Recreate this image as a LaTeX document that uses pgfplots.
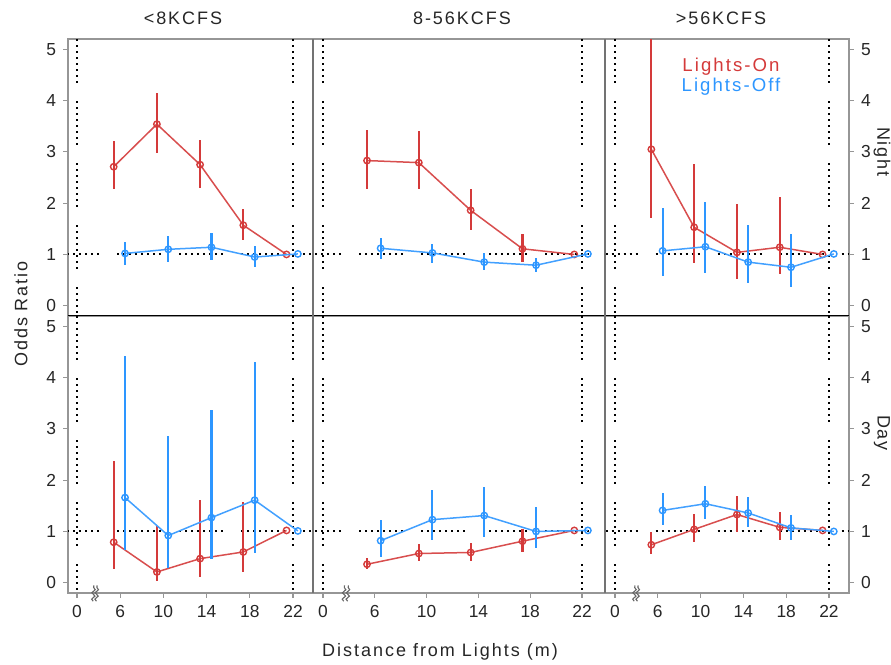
\documentclass[border=0pt]{standalone}
\usepackage{fontspec}
\setmainfont{Liberation Sans}
\newfontfamily\spaced{Liberation Sans}[LetterSpace=11]
\usepackage{pgfplots}
\pgfplotsset{compat=1.18}
\usepackage{pgfplotstable}
\usetikzlibrary{decorations.pathmorphing}

\definecolor{redc}{RGB}{212,58,58}
\definecolor{bluec}{RGB}{45,150,255}
\definecolor{framec}{RGB}{150,150,150}

% columns: x y lo hi
\pgfplotstableread{
x y lo hi
5.4 2.71 2.27 3.21
9.4 3.54 2.97 4.15
13.4 2.75 2.29 3.24
17.4 1.57 1.29 1.88
21.4 1.00 1.00 1.00
}\rNa
\pgfplotstableread{
x y lo hi
6.45 1.02 0.79 1.24
10.45 1.10 0.86 1.35
14.45 1.14 0.90 1.42
18.45 0.95 0.75 1.16
22.45 1.01 1.01 1.01
}\bNa
\pgfplotstableread{
x y lo hi
5.4 2.83 2.28 3.42
9.4 2.79 2.28 3.40
13.4 1.86 1.48 2.27
17.4 1.11 0.86 1.40
21.4 1.00 1.00 1.00
}\rNb
\pgfplotstableread{
x y lo hi
6.45 1.12 0.92 1.32
10.45 1.03 0.83 1.21
14.45 0.85 0.70 1.03
18.45 0.79 0.65 0.94
22.45 1.01 1.01 1.01
}\bNb
\pgfplotstableread{
x y lo hi
5.4 3.05 1.72 7.00
9.4 1.53 0.83 2.77
13.4 1.04 0.53 1.99
17.4 1.14 0.61 2.12
21.4 1.00 1.00 1.00
}\rNc
\pgfplotstableread{
x y lo hi
6.45 1.07 0.58 1.91
10.45 1.15 0.63 2.03
14.45 0.85 0.44 1.58
18.45 0.75 0.37 1.40
22.45 1.01 1.01 1.01
}\bNc
\pgfplotstableread{
x y lo hi
5.4 0.79 0.27 2.37
9.4 0.21 0.03 1.10
13.4 0.47 0.12 1.61
17.4 0.60 0.21 1.57
21.4 1.02 1.02 1.02
}\rDa
\pgfplotstableread{
x y lo hi
6.45 1.66 0.64 4.43
10.45 0.92 0.29 2.87
14.45 1.27 0.47 3.36
18.45 1.61 0.58 4.30
22.45 1.01 1.01 1.01
}\bDa
\pgfplotstableread{
x y lo hi
5.4 0.36 0.27 0.49
9.4 0.57 0.43 0.76
13.4 0.59 0.42 0.78
17.4 0.81 0.60 1.04
21.4 1.02 1.02 1.02
}\rDb
\pgfplotstableread{
x y lo hi
6.45 0.82 0.51 1.22
10.45 1.23 0.84 1.80
14.45 1.31 0.90 1.86
18.45 1.00 0.68 1.47
22.45 1.02 1.02 1.02
}\bDb
\pgfplotstableread{
x y lo hi
5.4 0.74 0.56 0.98
9.4 1.04 0.79 1.34
13.4 1.33 0.99 1.69
17.4 1.08 0.83 1.38
21.4 1.02 1.02 1.02
}\rDc
\pgfplotstableread{
x y lo hi
6.45 1.41 1.13 1.75
10.45 1.54 1.24 1.88
14.45 1.36 1.08 1.67
18.45 1.07 0.84 1.33
22.45 1.00 1.00 1.00
}\bDc

\pgfplotsset{
  panel/.style={scale only axis, height=138.5pt, ymin=-0.2, ymax=5.2, anchor=south west,
    axis line style={framec, line width=0.7pt},
    tick style={framec, line width=0.6pt}, tick align=outside, major tick length=2.5pt,
    ytick={0,1,2,3,4,5},
    ticklabel style={font=\fontsize{8.7}{10}\selectfont, text=black!85},
    /pgf/number format/assume math mode=true,
    clip mode=individual},
  c1/.style={width=122.5pt, xmin=1.17, xmax=23.85, ytick pos=left},
  c2/.style={width=146pt, xmin=1.23, xmax=23.77, ytick=\empty},
  c3/.style={width=122pt, xmin=1.07, xmax=23.87, ytick pos=right, yticklabel pos=right},
  top/.style={xtick=\empty},
  bot/.style={xtick={2,6,10,14,18,22}, xticklabels={0,6,10,14,18,22}, xtick pos=bottom},
  refl/.style={black, line width=1pt, dash pattern=on 1pt off 2pt on 1pt off 2pt on 1pt off 2pt on 1pt off 2pt on 1pt off 2pt on 1pt off 2pt on 1pt off 2pt on 1pt off 9pt},
  rser/.style={redc!90, line width=0.75pt, mark=o, mark size=1.6pt, mark options={line width=0.7pt, solid, redc},
    /pgfplots/error bars/y dir=both, /pgfplots/error bars/y explicit,
    /pgfplots/error bars/error mark=none,
    /pgfplots/error bars/error bar style={line width=1.05pt, redc}},
  bser/.style={bluec!90, line width=0.75pt, mark=o, mark size=1.6pt, mark options={line width=0.7pt, solid, bluec},
    /pgfplots/error bars/y dir=both, /pgfplots/error bars/y explicit,
    /pgfplots/error bars/error mark=none,
    /pgfplots/error bars/error bar style={line width=1.05pt, bluec}},
}

\newcommand{\refs}{%
  \addplot[refl] coordinates {(2,5.2) (2,-0.2)};
  \addplot[refl] coordinates {(22,5.2) (22,-0.2)};
  \addplot[refl] coordinates {(0,1) (30,1)};
}
\newcommand{\series}[2]{%
  \addplot[rser] table[x=x, y=y, y error plus expr=\thisrow{hi}-\thisrow{y}, y error minus expr=\thisrow{y}-\thisrow{lo}] {#1};
  \addplot[bser] table[x=x, y=y, y error plus expr=\thisrow{hi}-\thisrow{y}, y error minus expr=\thisrow{y}-\thisrow{lo}] {#2};
}
\newcommand{\brk}[1]{%
  \draw[black!60, line width=0.55pt, decorate, decoration={snake, amplitude=0.8pt, segment length=3.2pt}] (axis cs:#1,-0.36) -- (axis cs:#1+0.06,-0.05);
  \draw[black!60, line width=0.55pt, decorate, decoration={snake, amplitude=0.8pt, segment length=3.2pt}] (axis cs:#1+0.3,-0.36) -- (axis cs:#1+0.36,-0.05);
}

\begin{document}
\begin{tikzpicture}
\useasboundingbox (0,0) rectangle (445.5pt,332.5pt);
% top row
\begin{axis}[panel, c1, top, at={(34pt,174.5pt)}]
\refs \series{\rNa}{\bNa}
\end{axis}
\begin{axis}[panel, c2, top, at={(156.5pt,174.5pt)}]
\refs \series{\rNb}{\bNb}
\end{axis}
\begin{axis}[panel, c3, top, at={(302.5pt,174.5pt)}]
\refs \series{\rNc}{\bNc}
\end{axis}
% bottom row
\begin{axis}[panel, c1, bot, at={(34pt,36pt)}]
\refs \series{\rDa}{\bDa}
\brk{3.5}
\end{axis}
\begin{axis}[panel, c2, bot, at={(156.5pt,36pt)}]
\refs \series{\rDb}{\bDb}
\brk{3.6}
\end{axis}
\begin{axis}[panel, c3, bot, at={(302.5pt,36pt)}]
\refs \series{\rDc}{\bDc}
\brk{3.8}
\end{axis}
% dividers
\draw[black, line width=0.5pt] (34pt,174.5pt) -- (424.5pt,174.5pt);
\draw[black!55, line width=1pt] (156.5pt,36pt) -- (156.5pt,313pt);
\draw[black!55, line width=1pt] (302.5pt,36pt) -- (302.5pt,313pt);
% texts
\node[font=\spaced\fontsize{9}{10}\selectfont, text=black!85] at (91.5pt,323.5pt) {<8KCFS};
\node[font=\spaced\fontsize{9}{10}\selectfont, text=black!85] at (231pt,323.5pt) {8-56KCFS};
\node[font=\spaced\fontsize{9}{10}\selectfont, text=black!85] at (360.5pt,323.5pt) {>56KCFS};
\node[font=\spaced\fontsize{9.3}{10}\selectfont, text=redc] at (365.5pt,299pt) {Lights-On};
\node[font=\spaced\fontsize{9.3}{10}\selectfont, text=bluec] at (365.5pt,289pt) {Lights-Off};
\node[font=\spaced\fontsize{9}{10}\selectfont, text=black!85, rotate=90] at (10.5pt,175.5pt) {Odds Ratio};
\node[font=\spaced\fontsize{9}{10}\selectfont, text=black!85, rotate=-90] at (441pt,256.5pt) {Night};
\node[font=\spaced\fontsize{9}{10}\selectfont, text=black!85, rotate=-90] at (441pt,116pt) {Day};
\node[font=\spaced\fontsize{9}{10}\selectfont, text=black!85] at (220pt,6.5pt) {Distance from Lights (m)};
\end{tikzpicture}
\end{document}
